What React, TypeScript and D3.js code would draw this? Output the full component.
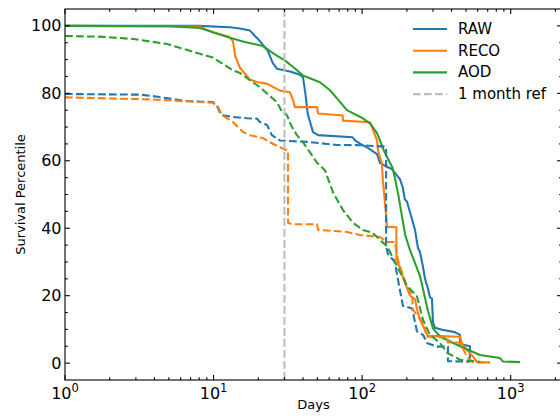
import React from 'react';
import * as d3 from 'd3';

type Pt = [number, number];

// [days, survival percentile]
const rawSolid: Pt[] = [
  [1, 100], [8, 100], [12.9, 99.6], [15, 99.2], [17.6, 98.6], [19, 97], [20.5, 95.5], [23.2, 92.6],
  [25, 89], [26.7, 87.3], [32.7, 86.5], [38.2, 85.5], [40, 84.7], [41.5, 80], [43, 74], [44.6, 71.5],
  [46.7, 68.5], [50.5, 67.6], [86, 67], [90, 66], [101, 64.6], [108, 64], [126, 62], [132, 59.3],
  [159, 57.5], [180, 54.5], [188, 52], [194, 48.5], [200, 48], [217, 42.6], [227, 39.5], [238, 34],
  [245, 33], [257, 28.5], [265, 25], [278, 22], [286, 19.5], [295, 19.2], [300, 12], [309, 10.5],
  [345, 9.9], [420, 9.2], [456, 8.4], [456, 5.7], [532, 5], [532, 1.5],
];
const recoSolid: Pt[] = [
  [1, 100], [8, 99.8], [10, 98], [12.7, 96.8], [13.5, 95.5], [14, 91], [15.1, 87.5], [16.5, 85.5],
  [17.6, 84], [20, 83.3], [23, 82.8], [28, 80.8], [32.7, 80.3], [34.3, 78], [35.3, 75.9], [49.7, 75.9],
  [50.5, 74], [74, 73.4], [74.3, 71.9], [113, 71.4], [116.5, 70], [126, 66], [128, 63], [136, 59],
  [138, 54], [142.5, 47.5], [147, 40.4], [170, 40.3], [170, 31], [180, 28], [194, 24], [203.5, 21.5],
  [210, 20], [227, 19], [234, 16], [245, 13], [257, 11], [277, 8], [334, 8], [456, 7.8], [470, 5.8],
  [516, 3.5], [557, 2], [593, 0.3], [726, 0.2],
];
const aodSolid: Pt[] = [
  [1, 100], [5, 99.9], [8.1, 99.4], [12.9, 96.5], [16, 95.3], [21.5, 94], [26, 91.5], [30.3, 89.7],
  [35, 87.5], [40, 85.3], [52, 83.3], [60.8, 80.9], [67.7, 78.5], [79, 75], [101, 72.6], [113, 71.1],
  [126, 68.2], [132, 66], [140, 63], [154, 59.4], [160, 58], [166, 55], [175, 50], [183, 45], [195, 38],
  [210, 33.5], [245, 25.9], [278, 15.3], [300, 10.3], [334, 7.9], [456, 5], [621, 2.4], [847, 1.5],
  [887, 0.5], [1155, 0.3],
];
const rawDashed: Pt[] = [
  [1, 79.8], [3.2, 79.6], [4.2, 79], [5.3, 78.3], [6.6, 77.7], [9.9, 77.4], [10.5, 76.5], [11.1, 74],
  [11.6, 73.5], [13.5, 73], [16.8, 72.6], [19.6, 72.5], [20.5, 71.5], [22.9, 70.6], [24.7, 67.6],
  [28, 66], [42.6, 65.6], [67.7, 64.7], [101, 64.6], [140, 64.2], [145, 64], [145, 34.7], [149, 32.4],
  [166, 30], [174, 25], [188, 17], [217, 16.2], [234, 9.4], [257, 8.4], [273, 6], [319, 4.9],
  [378, 4.9], [378, 0.6], [532, 0.4],
];
const recoDashed: Pt[] = [
  [1, 78.8], [3.7, 78.2], [9.9, 77.2], [10.7, 76], [11.4, 73.5], [13.5, 71.5], [15.8, 68.5],
  [17.6, 67.6], [21.5, 66.7], [24, 65.5], [28, 64], [31.7, 63], [31.7, 41.6], [33.7, 41.2],
  [49.7, 41.2], [50.5, 39.5], [79, 38.9], [96.7, 38], [132, 37.4], [147, 35.9], [166, 35.9],
  [174, 30.6], [200, 22.6], [217, 20.3], [220, 15.8], [257, 12], [273, 7.8], [373, 7.8], [378, 6.1],
  [456, 6.1], [508, 1.9], [557, 0.3], [726, 0.2],
];
const aodDashed: Pt[] = [
  [1, 97], [1.7, 96.8], [2.9, 96.1], [4.9, 94.6], [5.9, 93.5], [8.1, 91.7], [9.9, 90.6], [13.5, 86.8],
  [15.1, 86], [20.5, 81.8], [26.7, 77.4], [28.5, 75], [31.2, 73.5], [33.7, 70], [36.4, 67.6],
  [40, 65.5], [42.6, 63.7], [44.6, 62.5], [49.7, 59.4], [56.2, 57.2], [63.7, 50.6], [74.3, 45.4],
  [86.8, 41.6], [101, 39.5], [118, 38.6], [132, 36.5], [147, 34.7], [180, 27], [200, 23], [234, 19.8],
  [257, 12.8], [286, 8.4], [334, 6], [373, 3.1], [456, 1], [621, 0.4],
];

const seriesNames = ['RAW', 'RECO', 'AOD'];
const seriesColors = ['#1f77b4', '#ff7f0e', '#2ca02c'];
const solidSeries = [rawSolid, recoSolid, aodSolid];
const dashedSeries = [rawDashed, recoDashed, aodDashed];
const refDay = 30;
const refLabel = '1 month ref';
const xMajorExps = [0, 1, 2, 3];
const yMajorTicks = [0, 20, 40, 60, 80, 100];
const xLabel = 'Days';
const yLabel = 'Survival Percentile';

const FONT = '"DejaVu Sans", sans-serif';

export default function App() {
  const W = 560, H = 420;
  const left = 65, right = 562, top = 9, bottom = 380;
  const x = d3.scaleLog().domain([1, 2215]).range([left, right]);
  const y = d3.scaleLinear().domain([-5, 105]).range([bottom, top]);
  const line = d3.line<Pt>().x(d => x(d[0])).y(d => y(d[1]));

  const xMinor: number[] = [];
  for (let k = 0; k <= 3; k++) for (let m = 2; m <= 9; m++) {
    const v = m * Math.pow(10, k);
    if (v <= 2215) xMinor.push(v);
  }
  const yMinor: number[] = [];
  for (let v = 0; v <= 100; v += 5) if (v % 20 !== 0) yMinor.push(v);

  const majL = 4.9, minL = 2.8, tw = 1.1;
  const dash = '7.7,3.3';

  return (
    <svg width={W} height={H} style={{ position: 'absolute', left: 0, top: 0, background: '#fff' }} fontFamily={FONT}>
      <rect x={0} y={0} width={W} height={H} fill="#fff" />
      {/* curves */}
      <g fill="none" strokeWidth={2.08} strokeLinejoin="round">
        {solidSeries.map((s, i) => (
          <path key={'s' + i} d={line(s) || ''} stroke={seriesColors[i]} />
        ))}
        {dashedSeries.map((s, i) => (
          <path key={'d' + i} d={line(s) || ''} stroke={seriesColors[i]} strokeDasharray={dash} />
        ))}
        <line x1={x(refDay)} x2={x(refDay)} y1={top} y2={bottom} stroke="#bdbdbd" strokeDasharray={dash} />
      </g>
      {/* ticks */}
      <g stroke="#000" strokeWidth={tw}>
        {xMajorExps.map(e => {
          const px = x(Math.pow(10, e));
          return (
            <g key={'xm' + e}>
              <line x1={px} x2={px} y1={bottom} y2={bottom - majL} />
              <line x1={px} x2={px} y1={top} y2={top + majL} />
            </g>
          );
        })}
        {xMinor.map(v => {
          const px = x(v);
          return (
            <g key={'xn' + v}>
              <line x1={px} x2={px} y1={bottom} y2={bottom - minL} />
              <line x1={px} x2={px} y1={top} y2={top + minL} />
            </g>
          );
        })}
        {yMajorTicks.map(v => {
          const py = y(v);
          return (
            <g key={'ym' + v}>
              <line x1={left} x2={left + majL} y1={py} y2={py} />
              <line x1={right} x2={right - majL} y1={py} y2={py} />
            </g>
          );
        })}
        {yMinor.map(v => {
          const py = y(v);
          return (
            <g key={'yn' + v}>
              <line x1={left} x2={left + minL} y1={py} y2={py} />
              <line x1={right} x2={right - minL} y1={py} y2={py} />
            </g>
          );
        })}
      </g>
      {/* spines */}
      <rect x={left} y={top} width={right - left} height={bottom - top} fill="none" stroke="#000" strokeWidth={tw} />
      {/* tick labels */}
      <g fontSize={16} fill="#000">
        {yMajorTicks.map(v => (
          <text key={'yl' + v} x={left - 3.5} y={y(v)} textAnchor="end" dominantBaseline="central">{v}</text>
        ))}
        {xMajorExps.map(e => (
          <text key={'xl' + e} x={x(Math.pow(10, e))} y={399} textAnchor="middle">
            <tspan>10</tspan>
            <tspan dy={-7} fontSize={11.5}>{e}</tspan>
          </text>
        ))}
      </g>
      {/* axis labels */}
      <text x={(left + right) / 2} y={409} textAnchor="middle" fontSize={13}>{xLabel}</text>
      <text transform={`translate(25,${(top + bottom) / 2}) rotate(-90)`} textAnchor="middle" fontSize={13}>{yLabel}</text>
      {/* legend */}
      <g fontSize={15}>
        {seriesNames.map((n, i) => {
          const ly = 29 + i * 21.7;
          return (
            <g key={'lg' + i}>
              <line x1={413} x2={447} y1={ly} y2={ly} stroke={seriesColors[i]} strokeWidth={2.08} />
              <text x={458} y={ly} dominantBaseline="central">{n}</text>
            </g>
          );
        })}
        <line x1={413} x2={447} y1={29 + 3 * 21.7} y2={29 + 3 * 21.7} stroke="#bdbdbd" strokeWidth={2.08} strokeDasharray={dash} />
        <text x={458} y={29 + 3 * 21.7} dominantBaseline="central">{refLabel}</text>
      </g>
    </svg>
  );
}
